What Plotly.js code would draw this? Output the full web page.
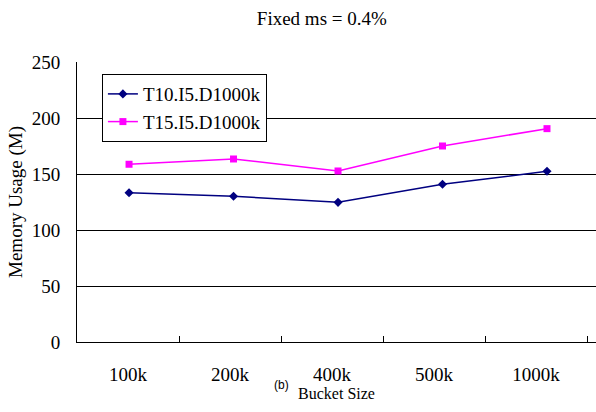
<!DOCTYPE html>
<html>
<head>
<meta charset="utf-8">
<script src="https://cdn.plot.ly/plotly-3.0.1.min.js"></script>
<style>html,body{margin:0;padding:0;background:#fff;}</style>
</head>
<body>
<div id="chart" style="width:596px;height:412px;"></div>
<script>
var categories = ["100k", "200k", "400k", "500k", "1000k"];
var seriesNames = ["T10.I5.D1000k", "T15.I5.D1000k"];
var t10Values = [133.3, 130.1, 124.7, 140.8, 152.4];
var t15Values = [158.7, 163.4, 152.7, 175.0, 190.5];
var yTicks = [0, 50, 100, 150, 200, 250];

var serif = "Liberation Serif, Times New Roman, serif";

var traces = [
  {
    // carries the category axis (no visible marks)
    x: categories, y: categories.map(function () { return null; }),
    type: "scatter", mode: "lines", xaxis: "x", yaxis: "y",
    showlegend: false, hoverinfo: "skip", line: {width: 0}
  },
  {
    x: categories, y: t10Values, name: seriesNames[0],
    type: "scatter", mode: "lines+markers", xaxis: "x2", yaxis: "y",
    line: {color: "#000080", width: 1.5},
    marker: {symbol: "diamond", size: 7, color: "#000080"}
  },
  {
    x: categories, y: t15Values, name: seriesNames[1],
    type: "scatter", mode: "lines+markers", xaxis: "x2", yaxis: "y",
    line: {color: "#FF00FF", width: 1.5},
    marker: {symbol: "square", size: 7, color: "#FF00FF"}
  }
];

var layout = {
  width: 596, height: 412,
  margin: {l: 77, r: 0, t: 62, b: 70},
  paper_bgcolor: "#fff", plot_bgcolor: "#fff",
  font: {family: serif, size: 19, color: "#000"},
  title: {
    text: "Fixed ms = 0.4%",
    font: {family: serif, size: 19, color: "#000"},
    xref: "container", x: 0.540, xanchor: "center",
    yref: "container", y: 0.956, yanchor: "middle"
  },
  xaxis: {
    type: "category", categoryorder: "array", categoryarray: categories,
    range: [-0.5, 4.588], fixedrange: true,
    tickson: "boundaries", ticks: "inside", ticklen: 6, tickcolor: "#000", tickwidth: 1,
    showline: true, linecolor: "#000", linewidth: 1, showgrid: false, zeroline: false,
    ticklabelstandoff: 15,
    tickfont: {family: serif, size: 19, color: "#000"},
    title: {text: "Bucket Size", font: {family: serif, size: 16, color: "#000"}, standoff: 1}
  },
  xaxis2: {
    type: "category", categoryorder: "array", categoryarray: categories,
    overlaying: "x", range: [-0.498, 4.469], visible: false, fixedrange: true
  },
  yaxis: {
    range: [0, 250], tickvals: yTicks, fixedrange: true,
    showgrid: true, gridcolor: "#000", gridwidth: 1,
    showline: true, linecolor: "#000", linewidth: 1, zeroline: false,
    ticks: "", ticklabelstandoff: 12,
    tickfont: {family: serif, size: 19, color: "#000"},
    title: {text: "Memory Usage (M)", font: {family: serif, size: 19, color: "#000"}, standoff: 4}
  },
  showlegend: true,
  legend: {
    x: 0.048, y: 0.957, xanchor: "left", yanchor: "top",
    bgcolor: "#fff", bordercolor: "#000", borderwidth: 1,
    font: {family: serif, size: 19, color: "#000"}
  },
  annotations: [
    {text: "(b)", xref: "paper", yref: "paper", x: (281 - 77) / 519, y: -(385 - 342) / 280,
     xanchor: "center", yanchor: "middle", showarrow: false,
     font: {family: "Liberation Sans, Arial, sans-serif", size: 12, color: "#000"}}
  ]
};

Plotly.newPlot("chart", traces, layout, {displayModeBar: false, staticPlot: true});
</script>
</body>
</html>
